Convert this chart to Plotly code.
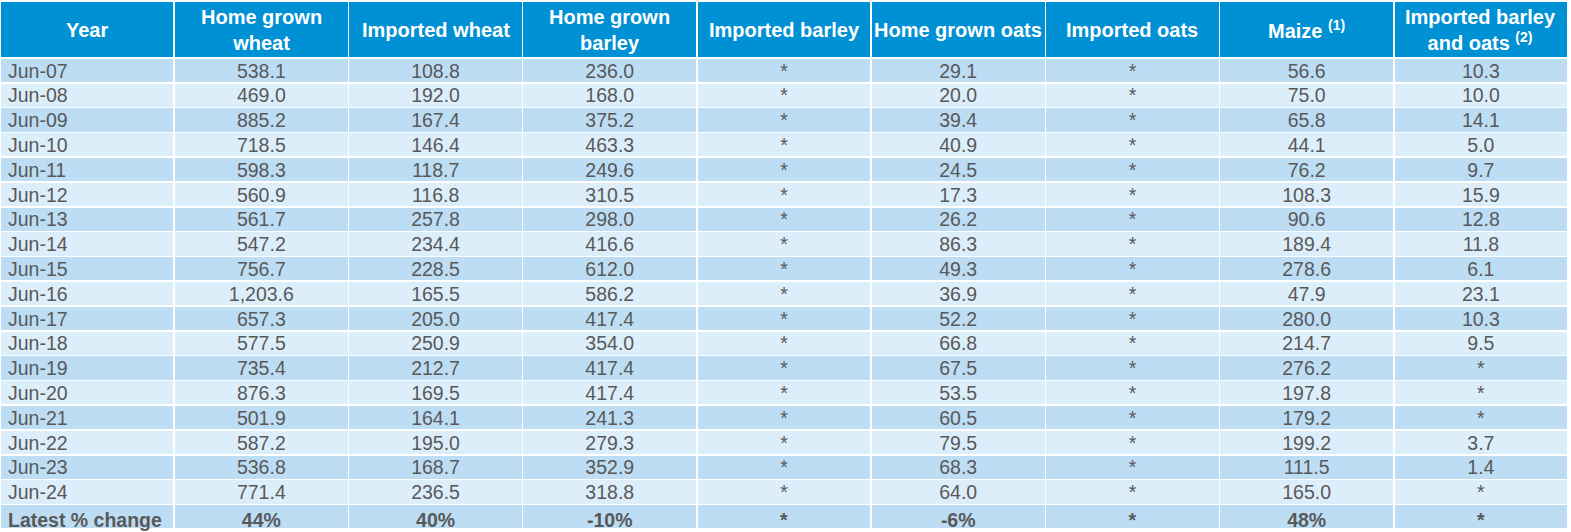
import plotly.graph_objects as go

years = ["Jun-07","Jun-08","Jun-09","Jun-10","Jun-11","Jun-12","Jun-13","Jun-14","Jun-15",
         "Jun-16","Jun-17","Jun-18","Jun-19","Jun-20","Jun-21","Jun-22","Jun-23","Jun-24"]
home_wheat = ["538.1","469.0","885.2","718.5","598.3","560.9","561.7","547.2","756.7",
              "1,203.6","657.3","577.5","735.4","876.3","501.9","587.2","536.8","771.4"]
imp_wheat = ["108.8","192.0","167.4","146.4","118.7","116.8","257.8","234.4","228.5",
             "165.5","205.0","250.9","212.7","169.5","164.1","195.0","168.7","236.5"]
home_barley = ["236.0","168.0","375.2","463.3","249.6","310.5","298.0","416.6","612.0",
               "586.2","417.4","354.0","417.4","417.4","241.3","279.3","352.9","318.8"]
imp_barley = ["*"] * 18
home_oats = ["29.1","20.0","39.4","40.9","24.5","17.3","26.2","86.3","49.3",
             "36.9","52.2","66.8","67.5","53.5","60.5","79.5","68.3","64.0"]
imp_oats = ["*"] * 18
maize = ["56.6","75.0","65.8","44.1","76.2","108.3","90.6","189.4","278.6",
         "47.9","280.0","214.7","276.2","197.8","179.2","199.2","111.5","165.0"]
imp_barley_oats = ["10.3","10.0","14.1","5.0","9.7","15.9","12.8","11.8","6.1",
                   "23.1","10.3","9.5","*","*","*","3.7","1.4","*"]
latest_change = ["Latest % change","44%","40%","-10%","*","-6%","*","48%","*"]

headers = ["Year", "Home grown<br>wheat", "Imported wheat", "Home grown<br>barley",
           "Imported barley", "Home grown oats", "Imported oats",
           "Maize <sup>(1)</sup>", "Imported barley<br>and oats <sup>(2)</sup>"]

columns = [years, home_wheat, imp_wheat, home_barley, imp_barley, home_oats, imp_oats,
           maize, imp_barley_oats]
# non-breaking spaces keep the summary label on one line
cells = [col + ["<b>" + latest_change[i].replace(" ", "\u00a0") + "</b>"]
         for i, col in enumerate(columns)]

n_cols = len(headers)
n_rows = len(years) + 1
dark, light = "#BDDDF4", "#DDEEFB"
row_colors = [dark if i % 2 == 0 else light for i in range(n_rows)]

W, H = 1571, 532
M_TOP, M_RIGHT = 1, 3
HEADER_H = 57
ROW_H = 24.8
TEXT_RAISE = 3
FONT = "Liberation Sans, Arial"
CLEAR = "rgba(0,0,0,0)"

# layer 1: cell fills and white grid lines
fig = go.Figure(go.Table(
    columnwidth=[1] * n_cols,
    header=dict(
        values=[""] * n_cols,
        fill_color="#0090D4",
        line=dict(color="white", width=1.5),
        font=dict(family=FONT, size=20, color="white"),
        height=HEADER_H,
    ),
    cells=dict(
        values=[[""] * n_rows for _ in range(n_cols)],
        fill_color=[row_colors] * n_cols,
        line=dict(color="white", width=1.5),
        font=dict(family=FONT, size=19.5, color="#595959"),
        height=ROW_H,
    ),
))

# layer 2: cell text (header band slightly shorter so text sits centred in rows)
fig.add_trace(go.Table(
    columnwidth=[1] * n_cols,
    header=dict(
        values=[""] * n_cols,
        fill_color=CLEAR,
        line=dict(color=CLEAR, width=0),
        height=HEADER_H - TEXT_RAISE,
    ),
    cells=dict(
        values=cells,
        fill_color=CLEAR,
        line=dict(color=CLEAR, width=0),
        font=dict(family=FONT, size=19.5, color="#595959"),
        align=["left"] + ["center"] * (n_cols - 1),
        height=ROW_H,
    ),
))

# header labels, vertically centred within the header band
plot_h = H - M_TOP
for i, h in enumerate(headers):
    fig.add_annotation(
        x=(i + 0.5) / n_cols, y=1 - (HEADER_H / 2) / plot_h,
        xref="paper", yref="paper", xanchor="center", yanchor="middle",
        text="<b>" + h + "</b>", showarrow=False, align="center",
        font=dict(family=FONT, size=20, color="white"),
    )

fig.update_layout(width=W, height=H, margin=dict(l=0, r=M_RIGHT, t=M_TOP, b=0),
                  paper_bgcolor="white")
fig.write_html("out.html", config={"displayModeBar": False},
               post_script="document.body.style.margin='0';")
